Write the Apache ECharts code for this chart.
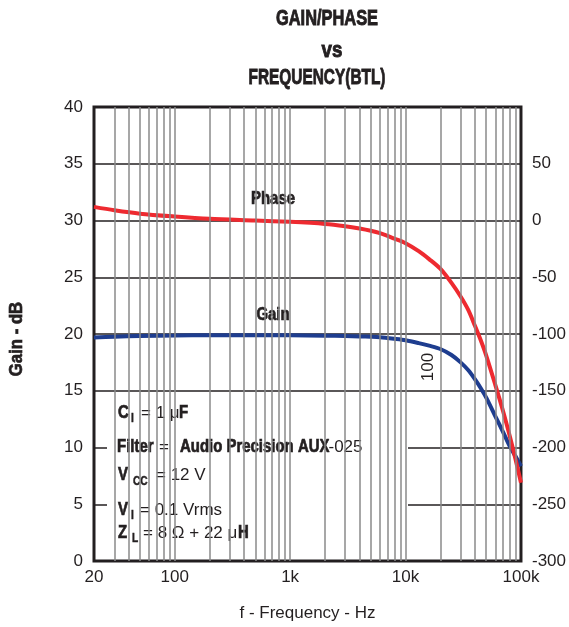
<!DOCTYPE html>
<html><head><meta charset="utf-8">
<script src="https://cdn.jsdelivr.net/npm/echarts@6/dist/echarts.min.js"></script>
<style>html,body{margin:0;padding:0;background:#fff}#c{width:569px;height:627px}</style>
</head><body><div id="c"></div>
<script>
// ---- data ----
const freqHz   = [20, 30, 50, 100, 200, 500, 1000, 2000, 3000, 4000, 5000, 6000, 8000, 10000, 13000, 16000, 20000, 25000, 30000, 35000, 40000, 45000, 50000, 60000, 70000, 80000, 90000, 100000];
const gainDb   = [19.7, 19.76, 19.83, 19.87, 19.9, 19.9, 19.88, 19.85, 19.82, 19.79, 19.76, 19.72, 19.58, 19.45, 19.2, 18.97, 18.68, 18.15, 17.5, 16.8, 16.0, 15.2, 14.4, 12.75, 11.35, 10.1, 9.2, 8.35];
const phaseDeg = [12, 9, 6, 3.5, 1.5, 0, -1.2, -3, -5, -7, -9, -11.2, -16, -20, -27, -34, -42.5, -55, -67, -79, -93, -106, -119, -145, -168, -190, -211, -231];
const xTickValues = [20, 100, 1000, 10000, 100000];
const xTickLabels = ['20', '100', '1k', '10k', '100k'];
const gainTicks  = [0, 5, 10, 15, 20, 25, 30, 35, 40];
const phaseTicks = [-300, -250, -200, -150, -100, -50, 0, 50];
const gridFreqs = [30,40,50,60,70,80,90,100,200,300,400,500,600,700,800,900,1000,2000,3000,4000,5000,6000,7000,8000,9000,10000,20000,30000,40000,50000,60000,70000,80000,90000];

const BOLD = '"Liberation Sans",Arial,Helvetica,sans-serif';
const REG  = '"Liberation Sans",Arial,Helvetica,sans-serif';
const INK = '#231f20';

const chart = echarts.init(document.getElementById('c'), null, {renderer: 'canvas'});

// text fragment helper (annotation text only)
function frag(x, y, text, font, sx, align, heavy, extra) {
  const style = {text: text, font: font, fill: INK,
      align: align || 'left', verticalAlign: 'middle',
      textAlign: align || 'left', textVerticalAlign: 'middle'};
  if (heavy) { style.stroke = INK; style.lineWidth = heavy; }
  return Object.assign({
    type: 'text', x: x, y: y, z: 5, scaleX: sx || 1, scaleY: 1, style: style
  }, extra || {});
}
const B18 = 'bold 18px ' + BOLD;
const S13 = 'bold 13px ' + BOLD;
const R17 = '17px ' + REG;
const CX = 0.83;   // condensed look
const SX = 0.78;
const HV = 0.7;    // heavier weight

chart.setOption({
  animation: false,
  backgroundColor: '#fff',
  grid: {left: 94, right: 48, top: 107, bottom: 64, show: true, borderColor: INK, borderWidth: 3, backgroundColor: 'transparent'},
  xAxis: {
    type: 'log', logBase: 10, min: 20, max: 100000,
    axisLine: {show: false}, axisTick: {show: false}, splitLine: {show: false}, minorTick: {show: false},
    axisLabel: {customValues: xTickValues, fontSize: 17, fontFamily: REG, color: INK, margin: 8,
      formatter: v => { const i = xTickValues.findIndex(t => Math.abs(t - v) / t < 1e-6); return i >= 0 ? xTickLabels[i] : ''; }},
    name: 'f - Frequency - Hz', nameLocation: 'middle', nameGap: 44,
    nameTextStyle: {fontSize: 17, fontFamily: REG, color: INK}
  },
  yAxis: [{
    type: 'value', min: 0, max: 40, interval: 5, position: 'left',
    axisLine: {show: false}, axisTick: {show: false},
    splitLine: {show: true, lineStyle: {color: INK, width: 1.5}},
    axisLabel: {customValues: gainTicks, fontSize: 17, fontFamily: REG, color: INK, margin: 11}
  }, {
    type: 'value', min: -300, max: 100, interval: 50, position: 'right',
    axisLine: {show: false}, axisTick: {show: false}, splitLine: {show: false},
    axisLabel: {customValues: phaseTicks, fontSize: 17, fontFamily: REG, color: INK, margin: 11}
  }],
  series: [{
    name: 'grid', type: 'line', z: 1, data: [[20, 0]], symbol: 'none', silent: true,
    lineStyle: {width: 0, opacity: 0},
    markLine: {silent: true, symbol: ['none', 'none'], animation: false, label: {show: false},
      lineStyle: {color: '#8a8a8a', width: 1.5, type: 'solid'},
      emphasis: {disabled: true},
      data: gridFreqs.map(f => ({xAxis: f}))}
  }, {
    name: 'Gain', type: 'line', z: 3, yAxisIndex: 0, smooth: 0.3, symbol: 'none',
    data: freqHz.map((f, i) => [f, gainDb[i]]),
    lineStyle: {color: '#1e3d8f', width: 4}
  }, {
    name: 'Phase', type: 'line', z: 3, yAxisIndex: 1, smooth: 0.3, symbol: 'none',
    data: freqHz.map((f, i) => [f, phaseDeg[i]]),
    lineStyle: {color: '#ee2a30', width: 4}
  }],
  graphic: {elements: [
    {type: 'rect', z: 2, shape: {x: 107, y: 400, width: 301, height: 150}, style: {fill: '#fff'}},
    {type: 'rect', z: 2, shape: {x: 238, y: 186, width: 58, height: 29}, style: {fill: '#fff'}},
    {type: 'rect', z: 2, shape: {x: 238, y: 302, width: 58, height: 30}, style: {fill: '#fff'}},
    // series labels
    frag(273, 199, 'Phase', B18, CX, 'center', HV),
    frag(273, 315, 'Gain', B18, CX, 'center', HV),
    frag(428, 367, '100', R17, 1, 'center', 0, {rotation: Math.PI / 2}),
    // axis title (left)
    frag(17, 339, 'Gain - dB', B18, 0.93, 'center', HV, {rotation: Math.PI / 2}),
    // chart title
    frag(327, 19, 'GAIN/PHASE', 'bold 22px ' + BOLD, 0.745, 'center', 0.9),
    frag(332, 51, 'vs', 'bold 22px ' + BOLD, 0.85, 'center', 0.9),
    frag(317, 78, 'FREQUENCY(BTL)', 'bold 22px ' + BOLD, 0.7, 'center', 0.9),
    // conditions
    frag(118, 413.5, 'C', B18, CX, 'left', HV), frag(131, 418.5, 'I', S13, SX, 'left', 0.5), frag(141, 413.5, '= 1 μ', R17), frag(179, 413.5, 'F', B18, CX, 'left', HV),
    frag(117, 447.5, 'Filter', B18, CX, 'left', HV), frag(159, 447.5, '=', R17), frag(180, 447.5, 'Audio Precision AUX', B18, CX, 'left', HV), frag(328.5, 447.5, '-025', R17),
    frag(118, 475, 'V', B18, CX, 'left', HV), frag(133, 481, 'CC', S13, SX, 'left', 0.5), frag(156, 475, '= 12 V', R17),
    frag(118, 510, 'V', B18, CX, 'left', HV), frag(131, 515.5, 'I', S13, SX, 'left', 0.5), frag(140, 510, '= 0.1 Vrms', R17),
    frag(118, 533.5, 'Z', B18, CX, 'left', HV), frag(132, 538.5, 'L', S13, SX, 'left', 0.5), frag(143, 533.5, '= 8 Ω + 22 μ', R17), frag(238, 533.5, 'H', B18, CX, 'left', HV)
  ]}
});
</script></body></html>
